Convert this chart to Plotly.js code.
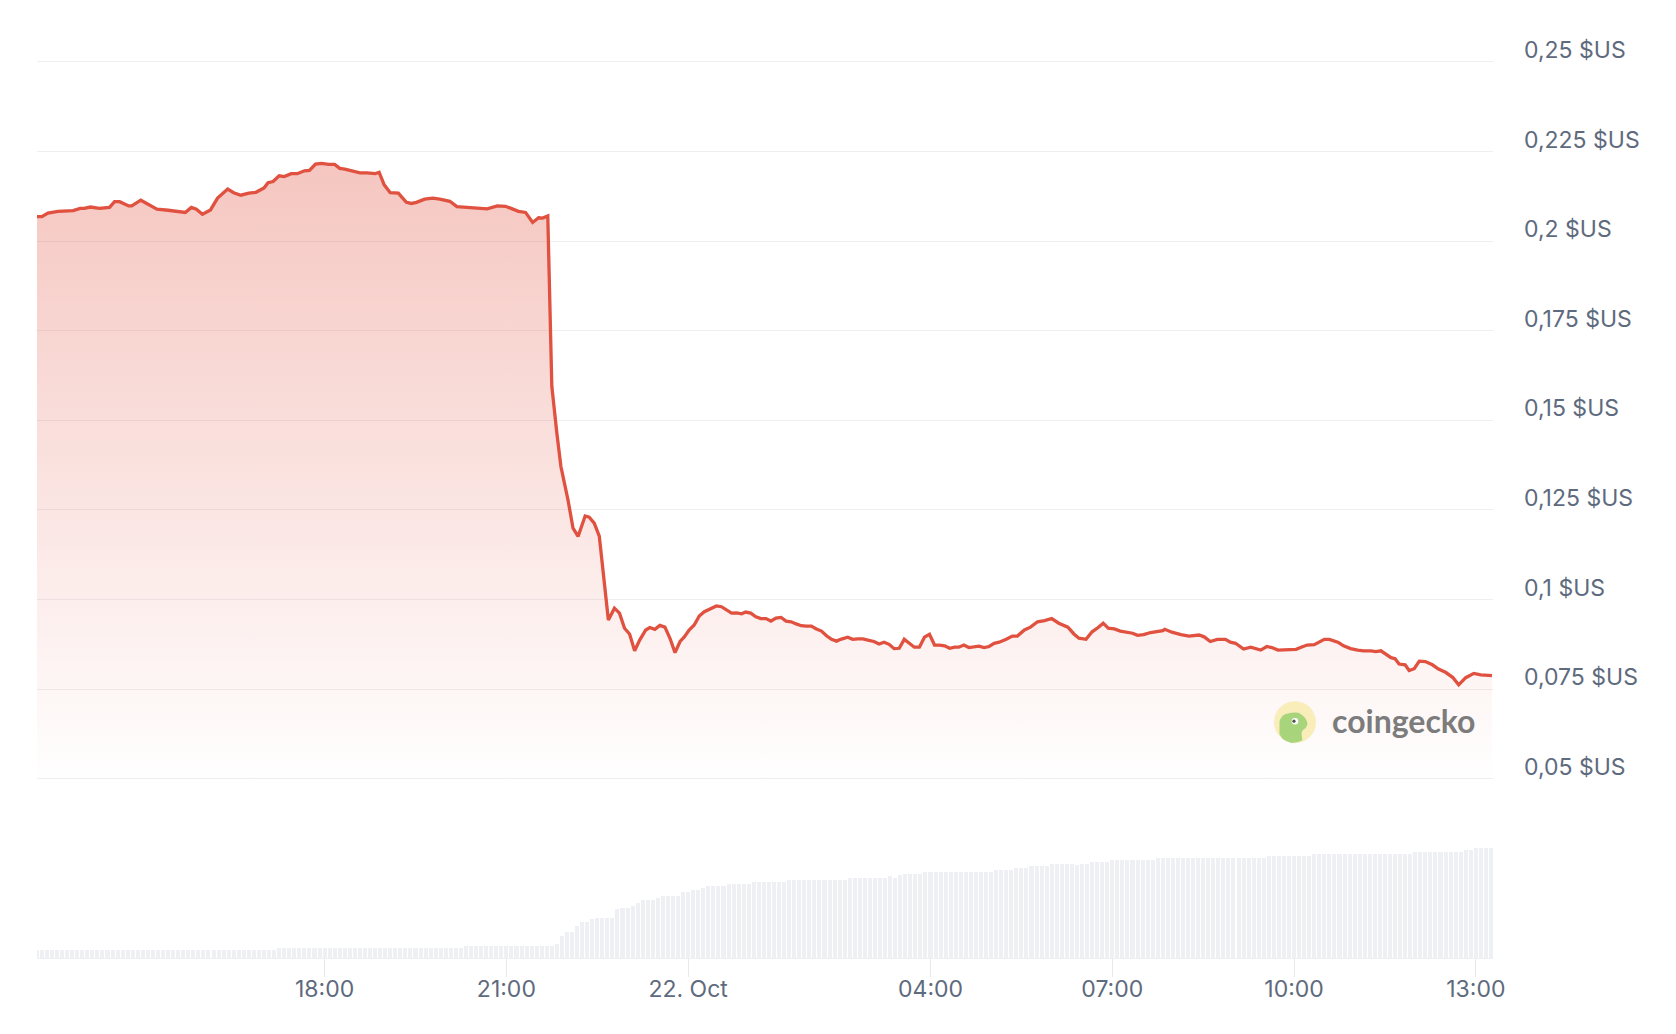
<!DOCTYPE html>
<html>
<head>
<meta charset="utf-8">
<script src="https://cdn.plot.ly/plotly-3.0.1.min.js"></script>
<style>
  html, body { margin: 0; padding: 0; background: #ffffff; }
  #chart { width: 1676px; height: 1034px; }
</style>
</head>
<body>
<div id="chart"></div>
<script>
// Minutes after 2024-10-21 00:00 for each price reading
const priceMinutes = [
  795, 800, 806, 816, 831, 838, 842, 848, 857, 867, 872, 877, 886, 889, 898, 905, 914, 925, 937, 942,
  948, 953, 959, 967, 974, 978, 984, 990, 997, 1005, 1012, 1020, 1024, 1029, 1035, 1040, 1047, 1053, 1060, 1065,
  1071, 1077, 1084, 1090, 1095, 1100, 1107, 1115, 1122, 1130, 1134, 1139, 1145, 1153, 1156, 1161, 1166, 1171, 1179, 1187,
  1194, 1204, 1211, 1221, 1232, 1241, 1251, 1259, 1264, 1272, 1279, 1286, 1292, 1296, 1301,
  1305, 1310, 1314, 1321, 1326, 1331, 1338, 1342, 1347, 1352, 1356,
  1361, 1367, 1372, 1377, 1382, 1387, 1392, 1398, 1402, 1407, 1412, 1417, 1422, 1427, 1432, 1436, 1441, 1446, 1451, 1456,
  1461, 1468, 1473, 1478, 1483, 1488, 1493, 1497, 1502, 1507, 1512, 1517, 1522, 1527, 1532, 1537, 1542, 1547, 1552, 1557,
  1562, 1567, 1572, 1577, 1582, 1587, 1591, 1598, 1603, 1608, 1613, 1619, 1624, 1629, 1634, 1639, 1644, 1649, 1654, 1659,
  1664, 1669, 1674, 1679, 1684, 1689, 1694, 1699, 1704, 1708, 1713, 1718, 1723, 1728, 1733, 1738, 1743,
  1748, 1755, 1761, 1766, 1773, 1779, 1786, 1793, 1800, 1807, 1816, 1822, 1827, 1834, 1840, 1846, 1851, 1856, 1862, 1868,
  1875, 1880, 1885, 1891, 1898, 1904, 1910, 1912, 1919, 1928, 1936, 1946, 1951, 1957, 1964, 1972, 1977, 1982, 1990, 1997,
  2002, 2007, 2013, 2018, 2024, 2032, 2042, 2047, 2053, 2060, 2065, 2070, 2075, 2079, 2084, 2089, 2096, 2103, 2109, 2116,
  2121, 2126, 2131, 2136, 2140, 2144, 2150, 2154, 2159, 2164, 2170, 2177, 2183, 2190, 2197, 2203, 2210, 2218, 2225, 2233, 2236
];
const priceValues = [
  0.2068, 0.2068, 0.2078, 0.2083, 0.2085, 0.2091, 0.2091, 0.2095, 0.2091, 0.2094, 0.2110, 0.2110, 0.2098, 0.2098, 0.2114, 0.2104, 0.2089, 0.2086, 0.2082, 0.2080,
  0.2094, 0.2089, 0.2075, 0.2087, 0.2120, 0.2129, 0.2145, 0.2135, 0.2128, 0.2134, 0.2136, 0.2148, 0.2163, 0.2166, 0.2182, 0.2180, 0.2188, 0.2188, 0.2196, 0.2197,
  0.2215, 0.2217, 0.2214, 0.2214, 0.2203, 0.2201, 0.2195, 0.2190, 0.2190, 0.2188, 0.2192, 0.2157, 0.2135, 0.2134, 0.2124, 0.2108, 0.2105, 0.2108, 0.2117, 0.2120,
  0.2117, 0.2111, 0.2096, 0.2094, 0.2091, 0.2090, 0.2098, 0.2097, 0.2092, 0.2083, 0.2080, 0.2052, 0.2065, 0.2064, 0.2070,
  0.1595, 0.1464, 0.1371, 0.1278, 0.1199, 0.1176, 0.1233, 0.1230, 0.1213, 0.1177, 0.1073,
  0.0943, 0.0976, 0.0962, 0.0920, 0.0904, 0.0857, 0.0887, 0.0915, 0.0922, 0.0917, 0.0928, 0.0923, 0.0892, 0.0852, 0.0883, 0.0895, 0.0915, 0.0929, 0.0954, 0.0966,
  0.0973, 0.0982, 0.0980, 0.0971, 0.0962, 0.0963, 0.0960, 0.0965, 0.0962, 0.0952, 0.0947, 0.0947, 0.0940, 0.0948, 0.0950, 0.0940, 0.0938, 0.0932, 0.0927, 0.0926,
  0.0926, 0.0918, 0.0912, 0.0899, 0.0889, 0.0884, 0.0889, 0.0895, 0.0889, 0.0890, 0.0890, 0.0886, 0.0883, 0.0876, 0.0881, 0.0875, 0.0863, 0.0864, 0.0889, 0.0878,
  0.0867, 0.0867, 0.0895, 0.0903, 0.0873, 0.0873, 0.0871, 0.0864, 0.0867, 0.0867, 0.0873, 0.0866, 0.0868, 0.0870, 0.0866, 0.0869, 0.0878,
  0.0881, 0.0889, 0.0898, 0.0898, 0.0915, 0.0923, 0.0938, 0.0941, 0.0947, 0.0934, 0.0923, 0.0904, 0.0892, 0.0889, 0.0910, 0.0922, 0.0934, 0.0920, 0.0918, 0.0912,
  0.0909, 0.0906, 0.0900, 0.0902, 0.0908, 0.0910, 0.0913, 0.0917, 0.0909, 0.0902, 0.0898, 0.0901, 0.0896, 0.0883, 0.0889, 0.0889, 0.0881, 0.0878, 0.0862, 0.0867,
  0.0862, 0.0859, 0.0869, 0.0866, 0.0859, 0.0860, 0.0861, 0.0867, 0.0873, 0.0874, 0.0881, 0.0889, 0.0889, 0.0884, 0.0880, 0.0871, 0.0863, 0.0859, 0.0857, 0.0857,
  0.0855, 0.0857, 0.0848, 0.0838, 0.0835, 0.0820, 0.0818, 0.0802, 0.0807, 0.0828, 0.0827, 0.0818, 0.0806, 0.0797, 0.0783, 0.0762, 0.0782, 0.0794, 0.0790, 0.0788, 0.0788
];

// Volume (millions $US): level and number of consecutive 5-minute bars
const volumeStartMinute = 795;
const volumeStepMinutes = 5;
const volumeLevels = [
  0.80, 1.03, 1.23, 1.40, 2.20, 2.60, 3.20, 3.60, 3.90, 4.00, 4.90, 5.00, 5.20, 5.50, 5.80, 6.00, 6.20, 6.60, 6.80, 7.00,
  7.20, 7.40, 7.60, 7.80, 8.00, 8.20, 8.03, 8.30, 8.40, 8.60, 8.80, 9.00, 9.20, 9.40, 9.30, 9.40, 9.60, 9.80, 10.00, 10.20,
  10.40, 10.57, 10.80, 10.97
];
const volumeRunLengths = [
  48, 37, 18, 1, 1, 2, 1, 2, 1, 4, 1, 2, 1, 1, 3, 1, 4, 2, 2, 1,
  4, 5, 7, 12, 8, 1, 1, 1, 4, 14, 4, 3, 4, 5, 1, 2, 4, 9, 22, 9,
  20, 10, 2, 4
];

const tickMinutes = [1080, 1260, 1440, 1680, 1860, 2040, 2220];
const tickLabels = ['18:00', '21:00', '22. Oct', '04:00', '07:00', '10:00', '13:00'];

const priceTickValues = [0.05, 0.075, 0.1, 0.125, 0.15, 0.175, 0.2, 0.225, 0.25];
const priceTickLabels = ['0,05 $US', '0,075 $US', '0,1 $US', '0,125 $US', '0,15 $US', '0,175 $US', '0,2 $US', '0,225 $US', '0,25 $US'];

// ---- helpers ----
const BASE = Date.UTC(2024, 9, 21, 0, 0, 0);
function toDate(m) {
  return new Date(BASE + m * 60000).toISOString().slice(0, 19).replace('T', ' ');
}

const priceX = priceMinutes.map(toDate);

const volX = [];
const volY = [];
let idx = 0;
volumeLevels.forEach((lvl, k) => {
  for (let j = 0; j < volumeRunLengths[k]; j++) {
    volX.push(toDate(volumeStartMinute + volumeStepMinutes * idx));
    volY.push(lvl);
    idx++;
  }
});

const FONT = 'Inter, "Open Sans", sans-serif';
const LABEL = '#5e6a7d';
const RED = '#e0513f';

const volumeTrace = {
  type: 'bar',
  x: volX,
  y: volY,
  yaxis: 'y2',
  width: 4 * 60000,
  marker: { color: '#eff0f4', line: { width: 0 } },
  hoverinfo: 'skip'
};

const priceTrace = {
  type: 'scatter',
  mode: 'lines',
  x: priceX,
  y: priceValues,
  line: { color: RED, width: 3.3, shape: 'linear' },
  fill: 'tozeroy',
  fillgradient: {
    type: 'vertical',
    start: 0.048,
    stop: 0.222,
    colorscale: [[0, 'rgba(226,82,65,0)'], [1, 'rgba(226,82,65,0.33)']]
  },
  hoverinfo: 'skip'
};

// Watermark anchor (plot fraction)
const cx = 0.8640, cy = 0.2530;

const layout = {
  width: 1676,
  height: 1034,
  margin: { l: 37, r: 183, t: 26, b: 76 },
  paper_bgcolor: '#ffffff',
  plot_bgcolor: '#ffffff',
  showlegend: false,
  bargap: 0,
  font: { family: FONT, color: LABEL, size: 23 },
  xaxis: {
    type: 'date',
    range: [toDate(795.2), toDate(2237)],
    tickmode: 'array',
    tickvals: tickMinutes.map(toDate),
    ticktext: tickLabels,
    ticks: 'outside',
    ticklen: 18,
    tickwidth: 1,
    tickcolor: '#e6e8ec',
    showgrid: false,
    zeroline: false,
    showline: true,
    linecolor: '#eff0f3',
    linewidth: 1,
    ticklabelstandoff: -8,
    tickfont: { family: FONT, size: 23, color: LABEL },
    fixedrange: true
  },
  yaxis: {
    range: [0, 0.26],
    side: 'right',
    tickmode: 'array',
    tickvals: priceTickValues,
    ticktext: priceTickLabels,
    ticks: '',
    showgrid: true,
    gridcolor: '#eeeff2',
    gridwidth: 1,
    zeroline: false,
    showline: false,
    ticklabelshift: -12,
    ticklabelstandoff: 30,
    tickfont: { family: FONT, size: 23, color: LABEL },
    fixedrange: true
  },
  yaxis2: {
    overlaying: 'y',
    range: [0, 93.2],
    visible: false,
    fixedrange: true
  },
  shapes: [
    {
      type: 'circle', xref: 'paper', yref: 'paper',
      xsizemode: 'pixel', ysizemode: 'pixel', xanchor: cx, yanchor: cy,
      x0: -21, x1: 21, y0: -21, y1: 21,
      fillcolor: '#f8ecb2', line: { width: 0 }, opacity: 0.9
    },
    {
      type: 'path', xref: 'paper', yref: 'paper',
      xsizemode: 'pixel', ysizemode: 'pixel', xanchor: cx, yanchor: cy,
      path: 'M -15.5 -12 L -15.5 1 Q -13.5 6.5 -10 8 Q -3.5 10.5 3.5 9.5 Q 9 7 11.5 2 L 12.5 -1 Q 12 -5.5 9 -7 L 7 -9 Q 6 -12 7 -15.5 L 7.5 -18 Q 2 -20.8 -3.5 -20.7 Q -9 -19.3 -12.5 -16.5 Z',
      fillcolor: '#9fd076', line: { width: 0 }, opacity: 0.9
    },
    {
      type: 'circle', xref: 'paper', yref: 'paper',
      xsizemode: 'pixel', ysizemode: 'pixel', xanchor: cx, yanchor: cy,
      x0: -3.3, x1: 3.3, y0: -2.3, y1: 4.3,
      fillcolor: '#ffffff', line: { width: 0 }
    },
    {
      type: 'circle', xref: 'paper', yref: 'paper',
      xsizemode: 'pixel', ysizemode: 'pixel', xanchor: cx, yanchor: cy,
      x0: -2.6, x1: 0.6, y0: -0.6, y1: 2.6,
      fillcolor: '#505050', line: { width: 0 }
    }
  ],
  annotations: [
    {
      xref: 'paper', yref: 'paper',
      x: 0.9385, y: 0.2543,
      xanchor: 'center', yanchor: 'middle',
      text: 'coingecko',
      showarrow: false,
      font: { family: 'Lato, "Noto Sans", sans-serif', size: 32, color: '#7c7c7c', weight: 'bold' }
    }
  ]
};

Plotly.newPlot('chart', [volumeTrace, priceTrace], layout, { displayModeBar: false, staticPlot: true });
</script>
</body>
</html>
